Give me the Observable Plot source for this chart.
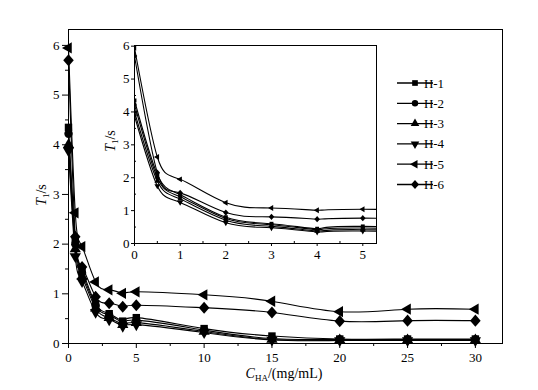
<!DOCTYPE html>
<html>
<head>
<meta charset="utf-8">
<script src="https://cdn.jsdelivr.net/npm/d3@7"></script>
<script src="https://cdn.jsdelivr.net/npm/@observablehq/plot@0.6"></script>
<style>
  body { margin: 0; background: white; }
  #wrap { position: relative; width: 538px; height: 390px; font-family: 'Liberation Serif', 'Times New Roman', serif; }
  #wrap > svg { position: absolute; left: 0; top: 0; }
  #wrap svg text { font-family: 'Liberation Serif', 'Times New Roman', serif; }
</style>
</head>
<body>
<div id="wrap"></div>
<script>
// ---- data ----
const concentrations = [0, 0.5, 1, 2, 3, 4, 5, 10, 15, 20, 25, 30];
const seriesNames = ["H-1", "H-2", "H-3", "H-4", "H-5", "H-6"];
const H1 = [4.35, 2.10, 1.48, 0.80, 0.60, 0.45, 0.52, 0.30, 0.15, 0.09, 0.09, 0.09];
const H2 = [4.22, 2.00, 1.42, 0.76, 0.57, 0.42, 0.47, 0.27, 0.10, 0.08, 0.08, 0.08];
const H3 = [4.00, 1.90, 1.35, 0.71, 0.52, 0.38, 0.42, 0.24, 0.08, 0.07, 0.07, 0.07];
const H4 = [3.88, 1.75, 1.25, 0.63, 0.48, 0.35, 0.38, 0.22, 0.07, 0.06, 0.06, 0.06];
const H5 = [5.95, 2.63, 1.95, 1.24, 1.08, 1.01, 1.04, 0.98, 0.85, 0.64, 0.69, 0.69];
const H6 = [5.70, 2.15, 1.54, 0.94, 0.81, 0.74, 0.77, 0.72, 0.625, 0.45, 0.46, 0.46];
const seriesValues = [H1, H2, H3, H4, H5, H6];
const mainXTicks = [0, 5, 10, 15, 20, 25, 30];
const mainYTicks = [0, 1, 2, 3, 4, 5, 6];
const insetXTicks = [0, 1, 2, 3, 4, 5];
const insetYTicks = [0, 1, 2, 3, 4, 5, 6];

// ---- symbols ----
const s3 = Math.sqrt(3);
const triDown = {draw(c, size) {
  const y = -Math.sqrt(size / (s3 * 3));
  c.moveTo(0, -y * 2); c.lineTo(-s3 * y, y); c.lineTo(s3 * y, y); c.closePath();
}};
const triLeft = {draw(c, size) {
  const y = -Math.sqrt(size / (s3 * 3));
  c.moveTo(y * 2, 0); c.lineTo(-y, -s3 * y); c.lineTo(-y, s3 * y); c.closePath();
}};
const diamond = {draw(c, size) {
  const r = Math.sqrt(size / 2);
  c.moveTo(0, -r * 1.15); c.lineTo(r, 0); c.lineTo(0, r * 1.15); c.lineTo(-r, 0); c.closePath();
}};
const symbols = ["square", "circle", "triangle", triDown, triLeft, diamond];

const data = [];
seriesNames.forEach((name, i) => {
  concentrations.forEach((c, j) => data.push({series: name, x: c, y: seriesValues[i][j]}));
});

const FF = "'Liberation Serif', 'Times New Roman', serif";
const font = {fontFamily: FF, fontSize: "13px", color: "black", background: "transparent", overflow: "visible"};
const wrap = document.getElementById("wrap");
const fmt = d3.format("d");

function seriesMarks(r, clip) {
  const marks = [Plot.line(data, {x: "x", y: "y", z: "series", curve: "natural", stroke: "black", strokeWidth: 1.1, clip})];
  seriesNames.forEach((name, i) => {
    marks.push(Plot.dot(data.filter(d => d.series === name), {x: "x", y: "y", symbol: symbols[i], r, fill: "black", stroke: "none", clip}));
  });
  return marks;
}

// ---- main chart ----
const mainMinorX = d3.range(0, 32.01, 2.5).filter(v => v % 5 !== 0);
const mainMinorY = d3.range(0.5, 6.3, 1);
const main = Plot.plot({
  width: 538, height: 390,
  marginLeft: 68, marginRight: 36, marginTop: 29, marginBottom: 47,
  style: font,
  x: {domain: [0, 32]},
  y: {domain: [0, 6.32]},
  marks: [
    Plot.frame({stroke: "black", strokeWidth: 1}),
    Plot.axisX({ticks: mainXTicks, tickSize: 5, tickPadding: 4, tickFormat: fmt, label: null, fontSize: 13}),
    Plot.axisX({ticks: mainMinorX, tickSize: 3, tickFormat: () => "", label: null}),
    Plot.axisY({ticks: mainYTicks, tickSize: 6, tickPadding: 3, tickFormat: fmt, label: null, fontSize: 13}),
    Plot.axisY({ticks: mainMinorY, tickSize: 3, tickFormat: () => "", label: null}),
    ...seriesMarks(4.2, false)
  ]
});
wrap.appendChild(main);

function t1Label(svg, x, y) {
  const t = svg.append("text").attr("transform", `translate(${x},${y}) rotate(-90)`)
    .attr("text-anchor", "middle").attr("font-size", 14).attr("font-family", FF);
  t.append("tspan").attr("font-style", "italic").text("T");
  t.append("tspan").attr("font-size", 9).attr("dy", 3).text("1");
  t.append("tspan").attr("dy", -3).text("/s");
}

const msvg = d3.select(main);
t1Label(msvg, 46, 195);
const xl = msvg.append("text").attr("x", 284).attr("y", 378)
  .attr("text-anchor", "middle").attr("font-size", 14).attr("font-family", FF);
xl.append("tspan").attr("font-style", "italic").text("C");
xl.append("tspan").attr("font-size", 9).attr("dy", 3).text("HA");
xl.append("tspan").attr("dy", -3).text("/(mg/mL)");

// ---- inset ----
const insetMinorY = d3.range(0.5, 6, 1);
const insetMinorX = d3.range(0.5, 5.3, 1);
const inset = Plot.plot({
  width: 538, height: 390,
  marginLeft: 134, marginRight: 162, marginTop: 45, marginBottom: 147,
  style: font,
  x: {domain: [0, 5.3]},
  y: {domain: [0, 6.02]},
  marks: [
    Plot.frame({stroke: "black", strokeWidth: 1, fill: "white"}),
    Plot.axisX({ticks: insetXTicks, tickSize: 3, tickPadding: 3, tickFormat: fmt, label: null, fontSize: 13}),
    Plot.axisX({ticks: insetMinorX, tickSize: -2, tickFormat: () => "", label: null}),
    Plot.axisY({ticks: insetYTicks, tickSize: 3, tickPadding: 2, tickFormat: fmt, label: null, fontSize: 13}),
    Plot.axisY({ticks: insetMinorY, tickSize: -2, tickFormat: () => "", label: null}),
    ...seriesMarks(2.2, true)
  ]
});
inset.style.pointerEvents = "none";
wrap.appendChild(inset);
const isvg = d3.select(inset);
t1Label(isvg, 115, 141);

// ---- legend ----
const leg = isvg.append("g").attr("font-family", FF).attr("font-size", 13);
seriesNames.forEach((name, i) => {
  const y = 83 + i * 20.3;
  leg.append("line").attr("x1", 397).attr("x2", 433).attr("y1", y).attr("y2", y).attr("stroke", "black").attr("stroke-width", 1.3);
  const sym = typeof symbols[i] === "string"
    ? ({square: d3.symbolSquare, circle: d3.symbolCircle, triangle: d3.symbolTriangle})[symbols[i]]
    : symbols[i];
  leg.append("path").attr("d", d3.symbol(sym, Math.PI * 3.2 * 3.2)()).attr("transform", `translate(415,${y})`).attr("fill", "black");
  leg.append("text").attr("x", 434).attr("y", y).attr("dy", "0.35em").text(name);
});
</script>
</body>
</html>
